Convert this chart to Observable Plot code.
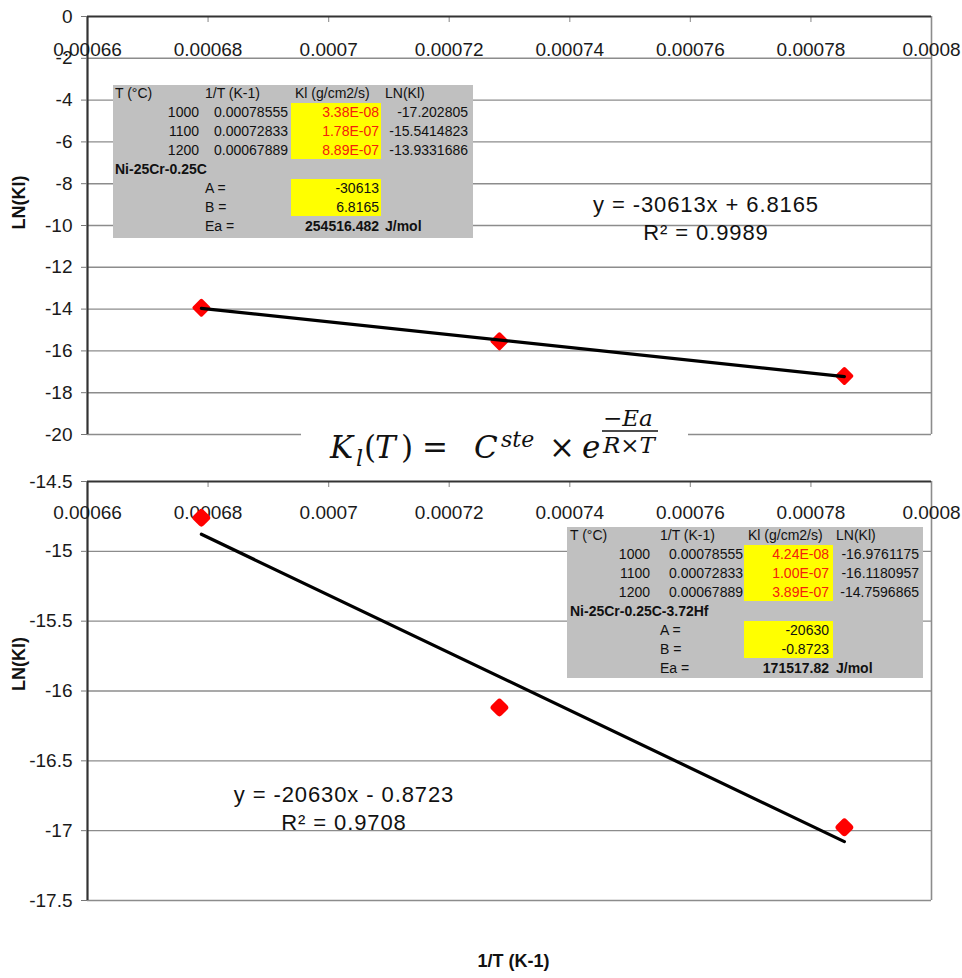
<!DOCTYPE html>
<html><head><meta charset="utf-8">
<script src="https://cdn.jsdelivr.net/npm/d3@7"></script>
<script src="https://cdn.jsdelivr.net/npm/@observablehq/plot@0.6"></script>
<style>
body{margin:0;background:#fff;}
#root{position:relative;width:962px;height:978px;overflow:hidden;background:#fff;font-family:"Liberation Sans",Arial,sans-serif;}
.chart{position:absolute;left:0;}
.tbl{position:absolute;background:#c0c0c0;font-size:14px;color:#111;}
.cell{position:absolute;line-height:19px;white-space:nowrap;}
.yel{position:absolute;background:#ffff00;}
.eq{position:absolute;text-align:center;font-size:22px;line-height:28px;color:#111;white-space:nowrap;letter-spacing:0.9px;}
#formula{position:absolute;left:0;top:0;pointer-events:none;}
</style></head><body><div id="root"></div>
<script>
// ---- data ----
const xTicks = [0.00066, 0.00068, 0.0007, 0.00072, 0.00074, 0.00076, 0.00078, 0.0008];
const xTickLabels = ["0.00066","0.00068","0.0007","0.00072","0.00074","0.00076","0.00078","0.0008"];
const topYTicks = [0,-2,-4,-6,-8,-10,-12,-14,-16,-18,-20];
const botYTicks = [-14.5,-15,-15.5,-16,-16.5,-17,-17.5];
const tempC = [1000,1100,1200];
const invT = [0.00078555,0.00072833,0.00067889];
const invTLabels = ["0.00078555","0.00072833","0.00067889"];
const klTop = ["3.38E-08","1.78E-07","8.89E-07"];
const lnTop = [-17.202805,-15.5414823,-13.9331686];
const klBot = ["4.24E-08","1.00E-07","3.89E-07"];
const lnBot = [-16.9761175,-16.1180957,-14.7596865];
const alloyTop = "Ni-25Cr-0.25C";
const alloyBot = "Ni-25Cr-0.25C-3.72Hf";
const fitTop = {A: "-30613", B: "6.8165", Ea: "254516.482"};
const fitBot = {A: "-20630", B: "-0.8723", Ea: "171517.82"};
const eqTop = ["y = -30613x + 6.8165", "R² = 0.9989"];
const eqBot = ["y = -20630x - 0.8723", "R² = 0.9708"];
const yLabel = "LN(Kl)";
const xLabel = "1/T (K-1)";

const root = document.getElementById("root");
const FONT = '"Liberation Sans", Arial, sans-serif';

function makeChart({yTicks, ln, top, height, mTop, mBottom, tickDy, markerR, markerSW, xTitle, yLabelDy}) {
  const rows = invT.map((x, i) => ({x, y: ln[i]}));
  const plotH = height - mTop - mBottom;
  const marks = [
    Plot.ruleY(yTicks.slice(1), {stroke: "#8c8c8c", strokeWidth: 1.4}),
    Plot.ruleX([xTicks[xTicks.length - 1]], {stroke: "#8c8c8c", strokeWidth: 1.6}),
    Plot.tickX(xTicks.slice(1, -1), {stroke: "#999", strokeWidth: 1.2, insetBottom: plotH - 6}),
    Plot.ruleY([yTicks[0]], {stroke: "#333", strokeWidth: 2}),
    Plot.ruleX([xTicks[0]], {stroke: "#333", strokeWidth: 2.2}),
    Plot.axisY({ticks: yTicks, tickSize: 6, tickPadding: 9, stroke: "#777", fill: "#1a1a1a",
      tickFormat: d => String(d), fontSize: 19, label: null}),
    Plot.text(xTicks, {x: d => d, text: (d, i) => xTickLabels[i], frameAnchor: "top", dy: tickDy, fill: "#1a1a1a", fontSize: 19}),
    Plot.dot(rows, {x: "x", y: "y", symbol: "diamond2", r: markerR, fill: "#ff0000", stroke: "#ff0000",
      strokeWidth: markerSW, strokeLinejoin: "round"}),
    Plot.linearRegressionY(rows, {x: "x", y: "y", ci: 0, stroke: "#000", strokeWidth: 3.2}),
    Plot.text([yLabel], {frameAnchor: "left", dx: -68, dy: yLabelDy, rotate: -90, fontWeight: "bold", fontSize: 18, fill: "#111", letterSpacing: "0.5px"})
  ];
  if (xTitle) marks.push(Plot.text([xTitle], {frameAnchor: "bottom", dy: 66, dx: 4, fontWeight: "bold", fontSize: 18, fill: "#111"}));
  const svg = Plot.plot({
    width: 962, height, marginTop: mTop, marginBottom: mBottom, marginLeft: 87, marginRight: 31,
    style: {fontFamily: FONT, fontSize: "19px", background: "transparent", overflow: "visible"},
    x: {domain: [xTicks[0], xTicks[xTicks.length - 1]], axis: null},
    y: {domain: [yTicks[yTicks.length - 1], yTicks[0]]},
    marks
  });
  svg.classList.add("chart");
  svg.style.top = top + "px";
  root.appendChild(svg);
}

makeChart({yTicks: topYTicks, ln: lnTop, top: 0, height: 445, mTop: 16, mBottom: 11, tickDy: 26, markerR: 6.5, markerSW: 3.5, yLabelDy: 4});
makeChart({yTicks: botYTicks, ln: lnBot, top: 445, height: 533, mTop: 36, mBottom: 78, tickDy: 24, markerR: 5, markerSW: 6.5, xTitle: xLabel, yLabelDy: 0});

function cell(parent, text, {left, right, row, bold, color}) {
  const d = document.createElement("div");
  d.className = "cell";
  d.textContent = text;
  if (left != null) d.style.left = left + "px";
  if (right != null) d.style.right = right + "px";
  d.style.top = (8 + 19 * row - 9.5) + "px";
  if (bold) d.style.fontWeight = "bold";
  if (color) d.style.color = color;
  parent.appendChild(d);
}
function makeTable({left, top, width, height, c, kl, ln, alloy, fit}) {
  const t = document.createElement("div");
  t.className = "tbl";
  Object.assign(t.style, {left: left + "px", top: top + "px", width: width + "px", height: height + "px"});
  const y1 = document.createElement("div"); y1.className = "yel";
  Object.assign(y1.style, {left: c.yl + "px", width: (c.yr - c.yl) + "px", top: "18px", height: "56px"});
  const y2 = document.createElement("div"); y2.className = "yel";
  Object.assign(y2.style, {left: c.yl + "px", width: (c.yr - c.yl) + "px", top: "94px", height: "37px"});
  t.appendChild(y1); t.appendChild(y2);
  const R = x => width - x;
  cell(t, "T (°C)", {left: c.t, row: 0});
  cell(t, "1/T (K-1)", {left: c.il, row: 0});
  cell(t, "Kl (g/cm2/s)", {left: c.kl, row: 0});
  cell(t, "LN(Kl)", {left: c.ll, row: 0});
  tempC.forEach((v, i) => {
    cell(t, String(v), {right: R(c.tr), row: i + 1});
    cell(t, invTLabels[i], {right: R(c.ir), row: i + 1});
    cell(t, kl[i], {right: R(c.kr), row: i + 1, color: "#f5200a"});
    cell(t, String(ln[i]), {right: R(c.lr), row: i + 1});
  });
  cell(t, alloy, {left: c.t, row: 4, bold: true});
  cell(t, "A =", {left: c.il, row: 5});
  cell(t, fit.A, {right: R(c.kr), row: 5});
  cell(t, "B =", {left: c.il, row: 6});
  cell(t, fit.B, {right: R(c.kr), row: 6});
  cell(t, "Ea =", {left: c.il, row: 7});
  cell(t, fit.Ea, {right: R(c.kr), row: 7, bold: true});
  cell(t, "J/mol", {left: c.ll, row: 7, bold: true});
  root.appendChild(t);
}
makeTable({left: 113, top: 85, width: 360, height: 153,
  c: {t: 2, tr: 86, il: 92, ir: 175, yl: 178, yr: 268, kl: 182, kr: 266, ll: 272, lr: 355},
  kl: klTop, ln: lnTop, alloy: alloyTop, fit: fitTop});
makeTable({left: 567, top: 527, width: 356, height: 151,
  c: {t: 3, tr: 83, il: 93, ir: 176, yl: 177, yr: 266, kl: 181, kr: 262, ll: 269, lr: 352},
  kl: klBot, ln: lnBot, alloy: alloyBot, fit: fitBot});

function eq(lines, cx, cy) {
  const d = document.createElement("div");
  d.className = "eq";
  Object.assign(d.style, {left: (cx - 160) + "px", width: "320px", top: (cy - 14) + "px"});
  d.innerHTML = lines.map(s => s.replace(/&/g, "&amp;")).join("<br>");
  root.appendChild(d);
}
eq(eqTop, 706, 205);
eq(eqBot, 344, 795);

// formula between the two charts
const ns = "http://www.w3.org/2000/svg";
const f = document.createElementNS(ns, "svg");
f.setAttribute("id", "formula");
f.setAttribute("width", 962); f.setAttribute("height", 978);
f.innerHTML = `
<rect x="301" y="398" width="387" height="79" fill="#fff"/>
<g font-family="'DejaVu Serif',serif" fill="#111">
<text x="330" y="458" font-size="31" font-style="italic">K</text>
<text x="356" y="466" font-size="22" font-style="italic">l</text>
<text x="364" y="458" font-size="31">(</text>
<text x="375" y="458" font-size="31" font-style="italic">T</text>
<text x="401" y="458" font-size="31">)</text>
<text x="422" y="458" font-size="31">=</text>
<text x="474" y="458" font-size="31" font-style="italic">C</text>
<text x="501" y="447" font-size="22" font-style="italic">ste</text>
<text x="549" y="458" font-size="31">×</text>
<text x="582" y="458" font-size="31" font-style="italic">e</text>
<text x="603" y="426" font-size="23">−<tspan font-style="italic">Ea</tspan></text>
<line x1="602" x2="658" y1="431" y2="431" stroke="#111" stroke-width="1.5"/>
<text x="603" y="453" font-size="23"><tspan font-style="italic">R</tspan>×<tspan font-style="italic">T</tspan></text>
</g>`;
root.appendChild(f);
</script></body></html>
